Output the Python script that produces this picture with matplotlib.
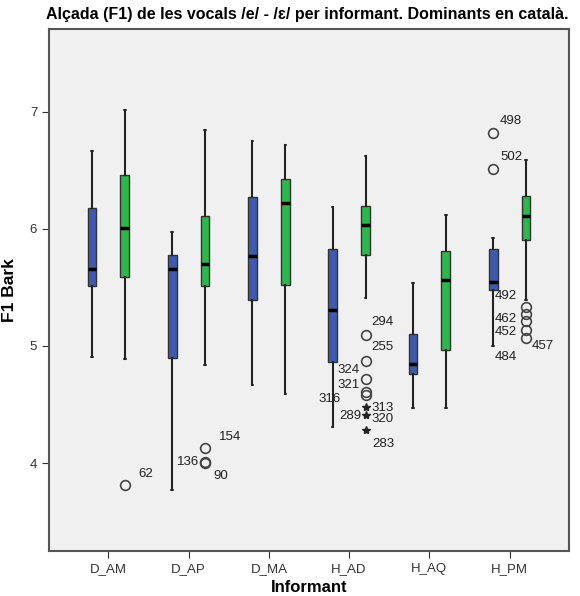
import matplotlib.pyplot as plt

plt.rcParams['font.family'] = ['Liberation Sans', 'DejaVu Sans']

informants = ['D_AM', 'D_AP', 'D_MA', 'H_AD', 'H_AQ', 'H_PM']

# serie blava
blau_min = [4.91, 3.77, 4.67, 4.31, 4.47, 5.00]
blau_q1 = [5.51, 4.90, 5.39, 4.86, 4.76, 5.48]
blau_med = [5.66, 5.66, 5.77, 5.31, 4.85, 5.55]
blau_q3 = [6.18, 5.78, 6.27, 5.83, 5.10, 5.83]
blau_max = [6.67, 5.97, 6.75, 6.19, 5.54, 5.92]
blau_atip = [[], [], [], [], [], [6.82, 6.51]]

# serie verda
verd_min = [4.89, 4.84, 4.59, 5.41, 4.47, 5.39]
verd_q1 = [5.59, 5.51, 5.52, 5.78, 4.97, 5.91]
verd_med = [6.01, 5.70, 6.22, 6.03, 5.56, 6.11]
verd_q3 = [6.46, 6.11, 6.43, 6.20, 5.81, 6.28]
verd_max = [7.02, 6.85, 6.72, 6.62, 6.12, 6.59]
verd_atip = [[3.81], [4.13, 4.01, 4.00], [], [5.09, 4.87, 4.72, 4.61, 4.58], [],
             [5.33, 5.27, 5.21, 5.14, 5.07]]
verd_extrems = [[], [], [], [4.48, 4.41, 4.28], [], []]

# etiquetes dels casos: (text, grup, serie, valor)
casos = [
    ('62', 0, 1, 3.81), ('154', 1, 1, 4.13), ('136', 1, 1, 4.01), ('90', 1, 1, 4.00),
    ('294', 3, 1, 5.09), ('255', 3, 1, 4.87), ('324', 3, 1, 4.72), ('321', 3, 1, 4.61),
    ('316', 3, 1, 4.58), ('313', 3, 1, 4.48), ('289', 3, 1, 4.41), ('320', 3, 1, 4.41),
    ('283', 3, 1, 4.28), ('498', 5, 0, 6.82), ('502', 5, 0, 6.51),
    ('492', 5, 1, 5.33), ('462', 5, 1, 5.21), ('452', 5, 1, 5.14), ('484', 5, 1, 5.07),
    ('457', 5, 1, 5.07),
]
# desplacament de cada etiqueta en punts (dx, dy, alineacio)
despl = [
    (10, 8, 'left'), (10, 8, 'left'), (-4, 0, 'right'), (6, -9, 'left'),
    (4, 10, 'left'), (4, 10, 'left'), (-4, 6, 'right'), (-4, 5, 'right'),
    (-18, -3, 'right'), (4, -1, 'left'), (-3, -1, 'right'), (4, -3, 'left'),
    (5, -10, 'left'), (5, 9, 'left'), (5, 9, 'left'),
    (-7, 8, 'right'), (-7, 2, 'right'), (-7, -2, 'right'), (-7, -14, 'right'),
    (4, -6, 'left'),
]

blau = '#3f5aad'
verd = '#2cb84a'
dx = 0.205

fig = plt.figure(figsize=(5.8, 5.96), dpi=100)
ax = fig.add_axes([49 / 580, 1 - 551 / 596, 520 / 580, 522 / 596])
ax.set_facecolor('#f0f0f0')

for serie, (mn, q1, md, q3, mx, at, color, off) in enumerate([
        (blau_min, blau_q1, blau_med, blau_q3, blau_max, blau_atip, blau, -dx),
        (verd_min, verd_q1, verd_med, verd_q3, verd_max, verd_atip, verd, dx)]):
    stats = []
    for i in range(len(informants)):
        stats.append({'whislo': mn[i], 'q1': q1[i], 'med': md[i], 'q3': q3[i],
                      'whishi': mx[i], 'fliers': at[i]})
    pos = [i + off for i in range(len(informants))]
    ax.bxp(stats, positions=pos, widths=0.11, patch_artist=True, manage_ticks=False,
           capwidths=0.02,
           boxprops=dict(facecolor=color, edgecolor='#333333', linewidth=1),
           medianprops=dict(color='black', linewidth=2.5),
           whiskerprops=dict(color='#222222', linewidth=1.5),
           capprops=dict(color='#222222', linewidth=1.2),
           flierprops=dict(marker='o', markersize=7, markerfacecolor='none',
                           markeredgecolor='#444444', markeredgewidth=1.2))

for i, vals in enumerate(verd_extrems):
    if vals:
        ax.plot([i + dx] * len(vals), vals, linestyle='none', marker='*',
                color='#222222', markersize=6)

for (txt, g, s, v), (ox, oy, ha) in zip(casos, despl):
    x = g + (dx if s == 1 else -dx)
    ax.annotate(txt, (x, v), xytext=(ox, oy), textcoords='offset points',
                ha=ha, va='center', fontsize=9.5, color='#222222')

ax.set_xlim(-0.74, 5.74)
ax.set_ylim(3.248, 7.709)
ax.set_xticks(range(len(informants)))
ax.set_xticklabels(informants, fontsize=9)
ax.set_yticks([4, 5, 6, 7])
ax.tick_params(direction='out', length=5, color='#333333', labelsize=9.5,
               labelcolor='#333333')
for sp in ax.spines.values():
    sp.set_color('#555555')
    sp.set_linewidth(1.5)

ax.set_xlabel('Informant', fontsize=12, fontweight='bold', labelpad=4)
ax.set_ylabel('F1 Bark', fontsize=12.5, fontweight='bold')
ax.yaxis.set_label_coords(-0.062, 0.5)
fig.text(307 / 580, 1 - 15 / 596, 'Alçada (F1) de les vocals /e/ - /ɛ/ per informant. Dominants en català.',
         ha='center', va='center', fontsize=11.5, fontweight='bold')

fig.savefig('out.png', dpi=100, facecolor='white')
